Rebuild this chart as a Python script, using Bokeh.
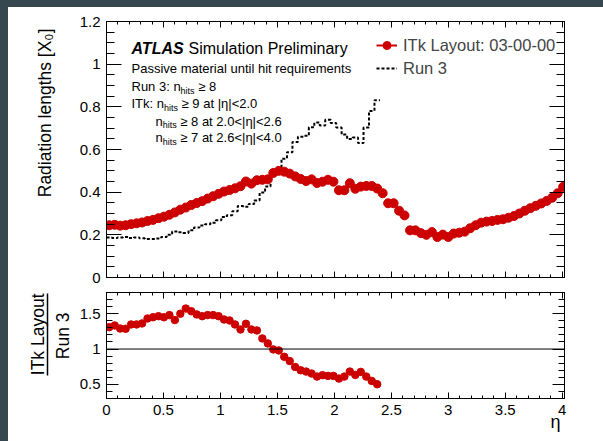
from bokeh.plotting import figure
from bokeh.layouts import row, column
from bokeh.models import (Range1d, LinearAxis, FixedTicker, PrintfTickFormatter,
                          Label, Legend, LegendItem, Span, Spacer, Title)
from bokeh.embed import file_html
from bokeh.resources import INLINE

FONT = "Liberation Sans"
RED = "#cc0000"
PAGE_BG = "#37474f"

# ---------------------------------------------------------------- data
BIN_WIDTH = 0.048  # eta bin width

# ITk layout 03-00-00: passive material until hit requirements [X0]
itk_x0 = [
    0.245, 0.247, 0.243, 0.245, 0.250, 0.254, 0.258, 0.265, 0.270, 0.278,
    0.285, 0.294, 0.305, 0.318, 0.328, 0.340, 0.349, 0.358, 0.370, 0.381,
    0.392, 0.403, 0.410, 0.418, 0.428, 0.450, 0.440, 0.456, 0.458, 0.460,
    0.490, 0.500, 0.496, 0.487, 0.474, 0.462, 0.452, 0.460, 0.443, 0.449,
    0.458, 0.449, 0.409, 0.409, 0.442, 0.416, 0.426, 0.429, 0.429, 0.417,
    0.395, 0.348, 0.348, 0.313, 0.291, 0.221, 0.221, 0.208, 0.200, 0.213,
    0.190, 0.201, 0.190, 0.206, 0.210, 0.215, 0.231, 0.245, 0.257, 0.262,
    0.265, 0.270, 0.273, 0.280, 0.288, 0.300, 0.313, 0.325, 0.336, 0.347,
    0.359, 0.374, 0.395, 0.425,
]

# Run 3 detector, same selection [X0]
run3_x0 = [
    0.187, 0.185, 0.188, 0.190, 0.185, 0.188, 0.184, 0.181, 0.181, 0.183,
    0.190, 0.200, 0.216, 0.212, 0.209, 0.221, 0.234, 0.244, 0.250, 0.257,
    0.268, 0.284, 0.292, 0.310, 0.335, 0.332, 0.345, 0.361, 0.398, 0.426,
    0.490, 0.510, 0.557, 0.587, 0.635, 0.660, 0.664, 0.704, 0.726, 0.713,
    0.739, 0.724, 0.703, 0.670, 0.649, 0.656, 0.630, 0.703, 0.781, 0.831,
]

# ITk / Run 3
ratio = [
    1.310, 1.334, 1.290, 1.286, 1.348, 1.348, 1.362, 1.432, 1.450, 1.465,
    1.450, 1.480, 1.410, 1.500, 1.573, 1.535, 1.490, 1.465, 1.480, 1.480,
    1.465, 1.418, 1.404, 1.348, 1.277, 1.357, 1.277, 1.263, 1.150, 1.080,
    0.995, 0.980, 0.890, 0.830, 0.746, 0.700, 0.681, 0.653, 0.610, 0.630,
    0.620, 0.620, 0.582, 0.610, 0.681, 0.634, 0.676, 0.610, 0.549, 0.502,
]

x_ticks = [0, 0.5, 1, 1.5, 2, 2.5, 3, 3.5, 4]
main_y_ticks = [0, 0.2, 0.4, 0.6, 0.8, 1.0, 1.2]
ratio_y_ticks = [0.5, 1.0, 1.5]

eta_itk = [BIN_WIDTH * (i + 0.5) for i in range(len(itk_x0))]
eta_ratio = [BIN_WIDTH * (i + 0.5) for i in range(len(ratio))]
run3_edges = [BIN_WIDTH * i for i in range(len(run3_x0) + 1)]
run3_steps = run3_x0 + [run3_x0[-1]]

# ---------------------------------------------------------------- geometry
X_RANGE = (0.0, 4.02)
MAIN_Y = (0.0, 1.2)
RATIO_Y = (0.3, 1.8)
FRAME_W = 458
MAIN_FRAME_H = 256
RATIO_FRAME_H = 106
LEFT, RIGHT = 98, 39


def mx(px):
    """page pixel column -> eta (frame starts at page x 106)"""
    return X_RANGE[0] + (px - 106) / FRAME_W * (X_RANGE[1] - X_RANGE[0])


def my(py):
    """page pixel row -> main-panel y (frame spans page y 21..277)"""
    return MAIN_Y[0] + (277 - py) / MAIN_FRAME_H * (MAIN_Y[1] - MAIN_Y[0])


def ry(py):
    """page pixel row -> ratio-panel y (frame spans page y 292..398)"""
    return RATIO_Y[0] + (398 - py) / RATIO_FRAME_H * (RATIO_Y[1] - RATIO_Y[0])


def frange(start, stop, step):
    n = int(round((stop - start) / step))
    return [round(start + k * step, 4) for k in range(n + 1)]


def style_axis(ax, lengths, labelled):
    major, minor = lengths
    ax.axis_line_color = "black"
    ax.axis_line_width = 1
    ax.major_tick_line_color = "black"
    ax.minor_tick_line_color = "black"
    ax.major_tick_in = major
    ax.major_tick_out = 0
    ax.minor_tick_in = minor
    ax.minor_tick_out = 0
    ax.formatter = PrintfTickFormatter(format="%g")
    if labelled:
        ax.major_label_text_font = FONT
        ax.major_label_text_font_size = "15px"
        ax.major_label_text_color = "black"
        ax.major_label_standoff = 6
    else:
        ax.major_label_text_font_size = "0px"
        ax.major_label_text_alpha = 0
        ax.major_label_standoff = 0


def add_frame_axes(fig, x_minor, y_major, y_minor, x_len, y_len,
                   x_labels, y_labels):
    for side in ("below", "above"):
        ax = LinearAxis(ticker=FixedTicker(ticks=x_ticks, minor_ticks=x_minor))
        style_axis(ax, x_len, x_labels and side == "below")
        fig.add_layout(ax, side)
    for side in ("left", "right"):
        ax = LinearAxis(ticker=FixedTicker(ticks=y_major, minor_ticks=y_minor))
        style_axis(ax, y_len, y_labels and side == "left")
        fig.add_layout(ax, side)


def rule_axis(fig, side, bounds):
    """A bare, tick-less axis line: the bar of the fraction title."""
    ax = LinearAxis(ticker=FixedTicker(ticks=[]), bounds=bounds,
                    major_tick_in=0, major_tick_out=0,
                    minor_tick_in=0, minor_tick_out=0,
                    major_label_standoff=0)
    ax.axis_line_color = "black"
    ax.axis_line_width = 1.5
    fig.add_layout(ax, side)


def side_title(fig, side, label, align, offset, standoff, size="17.5px"):
    fig.add_layout(Title(text=label, align=align, offset=offset,
                         standoff=standoff, text_font=FONT,
                         text_font_size=size, text_font_style="normal",
                         text_color="black"), side)


def make_fig(height, y_range, top, bottom):
    return figure(width=LEFT + FRAME_W + RIGHT, height=height,
                  x_range=Range1d(*X_RANGE), y_range=Range1d(*y_range),
                  x_axis_type=None, y_axis_type=None,
                  output_backend="svg", toolbar_location=None,
                  min_border_left=LEFT, min_border_right=RIGHT,
                  min_border_top=top, min_border_bottom=bottom,
                  background_fill_color="white", border_fill_color="white",
                  outline_line_color="black", outline_line_width=1)


def text(fig, x, y, s, size, **kw):
    opts = dict(text_font=FONT, text_font_size=size, text_color="black",
                text_baseline="alphabetic", text_align="left")
    opts.update(kw)
    fig.add_layout(Label(x=x, y=y, text=s, **opts))


# ---------------------------------------------------------------- main panel
p = make_fig(278, MAIN_Y, 14, 8)
add_frame_axes(p, frange(0, 4, 0.1), main_y_ticks, frange(0, 1.2, 0.05),
               (6, 3), (15, 8), x_labels=False, y_labels=True)
side_title(p, "left", "Radiation lengths [X\u2080]", "right", 7, 44)

run3_line = p.step(run3_edges, run3_steps, mode="after", line_color="black",
                   line_width=2, line_dash="3 2")
itk_key = p.line([float("nan")], [float("nan")], line_color=RED, line_width=2)
itk_pts = p.scatter(eta_itk, itk_x0, size=9, marker="circle",
                    fill_color=RED, line_color=RED)

legend = Legend(items=[
    LegendItem(label="ITk Layout: 03-00-00", renderers=[itk_key, itk_pts]),
    LegendItem(label="Run 3", renderers=[run3_line]),
], location=(270, 199), label_text_font=FONT, label_text_font_size="16.5px",
    glyph_width=21, glyph_height=20, label_height=20, label_standoff=6,
    spacing=3, padding=0, margin=0, border_line_color=None,
    background_fill_alpha=0)
p.add_layout(legend)

# ATLAS label and selection description
text(p, mx(131), my(48), "ATLAS", "16px", text_font_style="bold italic")
text(p, mx(188), my(48), "Simulation Preliminary", "16px")
text(p, mx(131), my(68), "Passive material until hit requirements", "13px")

SPACE_13 = 3.6
desc = [
    (131, 86, "Run 3: n", 49.1, "\u2265 8"),
    (131, 103, "ITk: n", 32.5, "\u2265 9 at |\u03b7|<2.0"),
    (155, 120.5, "n", 7.2, "\u2265 8 at 2.0<|\u03b7|<2.6"),
    (155, 137, "n", 7.2, "\u2265 7 at 2.6<|\u03b7|<4.0"),
]
for x0, base, head, head_w, tail in desc:
    text(p, mx(x0), my(base), head, "13px")
    text(p, mx(x0 + head_w), my(base + 4), "hits", "9px")
    text(p, mx(x0 + head_w + 14 + SPACE_13), my(base), tail, "13px")

# ---------------------------------------------------------------- ratio panel
r = make_fig(156, RATIO_Y, 7, 43)
add_frame_axes(r, frange(0, 4, 0.1), ratio_y_ticks, frange(0.3, 1.8, 0.1),
               (6, 3), (12, 6), x_labels=True, y_labels=True)
r.add_layout(Span(location=1.0, dimension="width", line_color="black",
                  line_width=1))
r.scatter(eta_ratio, ratio, size=7.5, marker="circle", fill_color=RED,
          line_color=RED)

# fraction-style y title: denominator, bar, numerator
side_title(r, "left", "Run 3", "right", 20, 7)
rule_axis(r, "left", (ry(375), ry(293)))
side_title(r, "left", "ITk Layout", "right", 1, 0)

# x axis title at the right end of the axis
side_title(r, "below", "\u03b7", "right", 4, -16, size="18px")

panels = column(p, r, styles={"background-color": "white"})
layout = row(Spacer(width=8, height=441),
             column(Spacer(width=595, height=7), panels),
             styles={"background-color": PAGE_BG})

open("out.html", "w").write(file_html(layout, INLINE))
